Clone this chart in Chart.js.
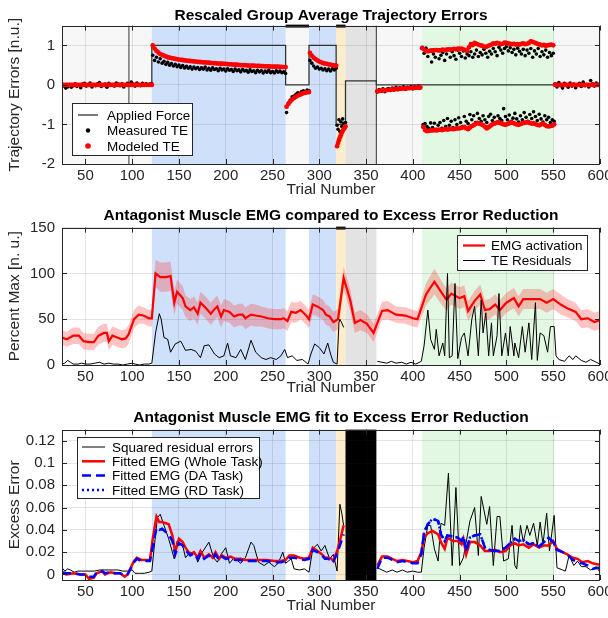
<!DOCTYPE html>
<html>
<head>
<meta charset="utf-8">
<script src="https://cdn.jsdelivr.net/npm/chart.js"></script>
<style>
  body { margin: 0; background: #fff; }
  #wrap { position: relative; width: 608px; height: 618px; }
  canvas { position: absolute; left: 0; }
</style>
</head>
<body>
<div id="wrap">
  <canvas id="te" width="608" height="200" style="top:0"></canvas>
  <canvas id="emg" width="608" height="200" style="top:200px"></canvas>
  <canvas id="fit" width="608" height="218" style="top:400px"></canvas>
</div>
<script>
Chart.defaults.font.family = '"Liberation Sans", Arial, Helvetica, sans-serif';
Chart.defaults.color = '#262626';

function range(a, b, step) {
  const out = [];
  for (let t = a; t <= b; t += step) out.push(t);
  return out;
}

// ---------- shared ----------
const xTicks = [50, 100, 150, 200, 250, 300, 350, 400, 450, 500, 550, 600];
const blueSpans = [[121, 264], [289, 318]];
const catchSpans = [[318, 328]];
const washSpans = [[328, 361]];
const rdSpans = [[410, 551]];

// ---------- panel 1: trajectory errors ----------
const teTrials = [].concat(
  range(25, 121, 2), range(122, 264, 2), range(265, 289, 2), range(290, 318, 2),
  range(319, 328, 1), range(362, 408, 2), range(410, 550, 2), range(411, 551, 2),
  range(552, 600, 2));

const measuredTE = [
  // baseline 25-121
  0.02,-0.03,-0.08,-0.05,0.01,-0.06,-0.02,0.03,-0.04,0.00,
  -0.07,0.02,0.04,-0.03,-0.01,0.05,-0.05,0.01,-0.02,0.03,
  0.06,-0.04,0.00,0.02,-0.06,0.04,-0.01,0.01,-0.03,0.05,
  0.02,-0.02,0.03,-0.05,0.00,0.04,-0.01,0.07,0.02,-0.03,
  0.05,0.01,-0.02,0.04,0.00,0.03,-0.01,0.02,0.03,
  // force field 122-264
  0.75,0.62,0.70,0.58,0.66,0.55,0.60,0.52,0.57,0.50,0.54,0.48,
  0.52,0.46,0.50,0.44,0.49,0.43,0.47,0.42,0.46,0.40,0.45,0.41,
  0.44,0.39,0.43,0.40,0.45,0.38,0.42,0.37,0.43,0.39,0.41,0.36,
  0.42,0.38,0.40,0.35,0.41,0.37,0.39,0.34,0.40,0.36,0.38,0.33,
  0.39,0.35,0.37,0.32,0.38,0.34,0.36,0.31,0.37,0.33,0.36,0.30,
  0.35,0.32,0.37,0.31,0.34,0.30,0.36,0.32,0.35,0.31,0.33,0.29,
  // after-effect 265-289
  -0.70,-0.45,-0.38,-0.30,-0.28,-0.24,-0.20,-0.22,-0.17,-0.15,-0.18,-0.13,-0.15,
  // re-exposure 290-318
  0.62,0.55,0.48,0.42,0.45,0.40,0.42,0.38,0.41,0.36,0.40,0.35,0.41,0.38,0.42,
  // catch 319-328
  -1.02,-1.12,-0.88,-1.18,-0.93,-1.05,-0.86,-0.97,-1.10,-0.95,
  // washout 362-408
  -0.18,-0.12,-0.16,-0.10,-0.17,-0.11,-0.09,-0.14,-0.08,-0.13,-0.06,-0.12,
  -0.07,-0.10,-0.05,-0.11,-0.06,-0.09,-0.04,-0.10,-0.05,-0.08,-0.03,-0.07,
  // random direction, upper 410-550
  0.95,0.80,0.93,0.72,0.85,0.58,0.78,0.70,0.88,0.66,
  0.75,0.82,0.62,0.78,0.90,0.70,0.84,0.74,0.65,0.88,
  0.80,0.72,0.86,0.68,0.78,0.74,0.84,0.70,0.78,0.88,
  0.72,0.82,0.76,0.90,0.80,0.70,0.85,0.78,0.92,0.84,
  0.74,0.95,0.88,0.80,0.92,0.97,0.86,0.94,0.82,0.90,
  0.76,0.93,0.85,0.78,0.90,0.74,0.88,0.80,0.92,0.70,
  0.86,0.78,0.92,0.72,0.84,0.76,0.88,0.70,0.82,0.74,
  0.80,
  // random direction, lower 411-551
  -1.00,-0.98,-1.05,-1.10,-0.96,-1.08,-0.97,-1.12,-1.02,-0.95,
  -1.10,-0.90,-1.05,-0.85,-1.02,-0.92,-1.08,-0.88,-1.00,-0.83,
  -0.95,-1.05,-0.80,-0.92,-0.98,-0.75,-0.88,-0.78,-0.95,-0.72,
  -0.85,-0.92,-0.78,-0.88,-0.95,-0.80,-0.74,-0.90,-0.82,-0.95,
  -0.78,-0.85,-0.90,-0.60,-0.80,-0.88,-0.76,-0.92,-0.84,-0.72,
  -0.86,-0.94,-0.78,-0.88,-0.70,-0.82,-0.92,-0.75,-0.85,-0.68,
  -0.80,-0.90,-0.74,-0.86,-0.94,-0.78,-0.88,-0.82,-0.95,-0.88,
  -0.92,
  // final baseline 552-600
  0.03,-0.05,0.06,-0.02,-0.08,0.04,0.01,-0.06,0.05,-0.03,
  0.02,-0.07,0.00,0.04,-0.04,0.07,-0.02,0.01,-0.05,0.11,
  0.03,-0.03,0.05,-0.01,0.02
];

const modeledTE = [
  0,0,0,0,0,0,0,0,0,0, 0,0,0,0,0,0,0,0,0,0, 0,0,0,0,0,0,0,0,0,0,
  0,0,0,0,0,0,0,0,0,0, 0,0,0,0,0,0,0,0,0,
  1.00,0.92,0.86,0.82,0.78,0.76,0.74,0.72,0.70,0.69,0.68,0.67,
  0.66,0.65,0.64,0.635,0.63,0.62,0.615,0.61,0.605,0.60,0.595,0.59,
  0.585,0.58,0.575,0.57,0.57,0.565,0.56,0.555,0.55,0.55,0.545,0.54,
  0.54,0.535,0.53,0.53,0.525,0.52,0.52,0.515,0.51,0.51,0.505,0.50,
  0.50,0.50,0.495,0.49,0.49,0.49,0.485,0.48,0.48,0.48,0.475,0.475,
  0.47,0.47,0.47,0.465,0.465,0.46,0.46,0.46,0.455,0.455,0.45,0.45,
  -0.55,-0.48,-0.42,-0.37,-0.33,-0.30,-0.27,-0.25,-0.23,-0.21,-0.20,-0.19,-0.18,
  0.81,0.74,0.69,0.65,0.62,0.59,0.57,0.55,0.54,0.53,0.52,0.51,0.50,0.495,0.49,
  -1.55,-1.47,-1.40,-1.33,-1.27,-1.21,-1.16,-1.12,-1.08,-1.05,
  -0.16,-0.15,-0.145,-0.14,-0.135,-0.13,-0.125,-0.12,-0.115,-0.11,-0.105,-0.10,
  -0.10,-0.095,-0.09,-0.09,-0.085,-0.08,-0.08,-0.075,-0.075,-0.07,-0.07,-0.065,
  0.93,0.90,0.86,0.85,0.86,0.87,0.87,0.88,0.88,0.87,
  0.88,0.89,0.88,0.89,0.90,0.89,0.90,0.91,0.90,0.92,
  0.91,0.92,0.90,0.88,0.86,0.95,1.03,1.01,1.06,1.04,
  1.02,1.00,0.99,0.97,0.96,0.98,1.00,1.02,1.05,1.04,
  1.06,1.05,1.03,1.04,1.07,1.06,1.05,1.04,1.03,1.04,
  1.02,1.03,1.02,1.04,1.05,1.03,1.04,1.06,1.10,1.09,
  1.07,1.05,1.03,1.02,1.00,1.01,0.99,1.00,1.01,1.02,
  1.00,
  -1.06,-1.14,-1.17,-1.16,-1.15,-1.15,-1.14,-1.15,-1.14,-1.13,
  -1.14,-1.13,-1.12,-1.13,-1.12,-1.11,-1.12,-1.11,-1.10,-1.10,
  -1.09,-1.08,-1.06,-1.10,-1.12,-1.08,-1.04,-1.02,-0.99,-0.96,
  -0.98,-1.00,-1.02,-1.06,-1.10,-1.07,-1.03,-1.00,-0.98,-0.96,
  -0.94,-0.96,-0.98,-1.00,-1.01,-0.99,-0.97,-0.95,-0.96,-0.98,
  -1.00,-1.01,-0.99,-0.97,-0.96,-0.95,-0.94,-0.96,-0.98,-0.97,
  -0.99,-1.01,-1.02,-1.00,-0.98,-1.01,-1.04,-1.05,-1.04,-1.03,
  -1.00,
  0,0,0,0,0,0,0,0,0,0, 0,0,0,0,0,0,0,0,0,0, 0,0,0,0,0
];

const forceTrials = [25, 121, 121, 264, 264, 289, 289, 318, 318, 328, 328, 361, 361, 600];
const forceLevels = [0, 0, 1, 1, 0, 0, 1, 1, -1, -1, 0.1, 0.1, 0, 0];
const markerTrials = [96.5, 361];
const teTicks = [-2, -1, 0, 1];

// ---------- panel 2: EMG vs residuals ----------
const emgTrials = [
  25,30,37,43,48,54,59,64,70,73, 75,79,84,89,93,96,102,107,112,118,
  121,125,130,136,141,145,148,154,157,162, 166,170,173,179,184,188,191,195,198,204,
  209,214,218,221,227,232,238,245,252,259, 262,266,270,275,280,286,289,293,298,304,
  307,311,315,320,326,333,338,344,351,358, 367,373,382,392,400,405,414,423,430,436,
  441,450,455,459,466,472,477,482,488,493, 500,508,513,518,527,536,543,550,558,565,
  574,580,587,594,600];
const emgValues = [
  30,28,32,32,26,25,25,32,35,35, 26,32,30,28,29,33,50,55,54,51,
  51,100,96,96,97,68,80,73,64,60, 63,56,68,62,56,61,64,53,60,58,
  53,55,55,51,55,54,53,51,50,50, 51,48,58,57,60,54,50,66,64,60,
  55,53,47,50,95,71,46,49,45,35, 59,60,55,54,51,50,77,91,80,71,
  78,73,75,59,70,77,60,61,66,60, 68,73,64,72,72,72,68,72,66,62,
  58,50,51,47,49];
const emgSpread = [
  8,8,9,9,9,9,9,10,10,10, 10,10,10,10,10,10,10,10,9,9,
  9,15,16,16,16,14,13,13,12,12, 12,12,12,12,12,12,12,12,12,12,
  12,12,12,12,12,12,11,11,11,11, 11,11,11,11,10,10,10,11,11,11,
  11,11,11,11,12,12,11,11,10,10, 10,10,9,9,9,9,12,14,13,12,
  12,12,12,11,11,11,11,11,11,11, 11,11,11,11,11,11,11,11,11,10,
  10,10,10,10,10];

const resTrials = [
  25,28,31,34,37,42,46,50,55,60, 65,70,75,80,85,90,95,100,103,108,
  113,118,121,125,129,131,134,138,141,146, 152,157,163,168,173,177,182,188,193,198,
  202,205,211,216,221,227,232,238,243,248, 254,259,263,266,271,276,282,288,291,295,
  300,305,309,312,315,319,321,322,324,326, 345,362,367,372,377,382,388,393,398,403,
  409,412,416,419,423,425,428,432,434,437, 439,442,445,448,452,455,459,463,466,470,
  473,475,478,481,484,486,490,492,495,499, 502,504,508,509,513,517,520,524,527,531,
  533,536,540,544,547,551,553,556,562,567, 571,574,580,585,590,596,600];
const resValues = [
  1,2,5,3,1,1,2,1,1,2, 3,1,2,1,1,0,1,2,1,0,
  1,1,2,35,56,50,30,28,14,23, 26,16,17,15,8,21,22,12,8,10,
  24,10,8,17,6,27,14,8,6,8, 6,10,17,8,10,5,6,1,12,23,
  19,12,24,12,3,1,46,50,46,41, null,4,3,2,4,2,3,1,3,1,
  4,21,60,28,17,39,10,24,10,100, 8,10,89,7,30,35,10,50,64,10,
  71,35,57,10,46,10,32,78,10,35, 10,42,10,24,8,42,14,46,6,68,
  5,35,32,14,42,42,10,6,4,10, 6,10,5,3,6,3,1];
const emgTicks = [0, 50, 100, 150];

// ---------- panel 3: fitted EMG ----------
const sqTrials = [
  25,28,31,34,38,42,46,50,55,60, 65,70,75,80,85,90,95,100,103,108,
  113,118,121,123,127,130,134,139,143,145, 148,154,157,162,168,170,175,182,187,191,
  195,200,204,209,216,221,227,230,235,241, 246,252,256,261,264,270,273,279,284,289,
  293,298,302,306,311,315,319,322,324,326, 345,362,367,372,378,383,389,394,400,405,
  409,412,416,419,423,427,430,434,438,442, 446,450,454,457,461,466,470,473,479,482,
  486,490,493,497,502,506,509,511,515,518, 522,525,529,533,536,539,543,546,551,554,
  560,563,567,572,576,580,585,590,596,600];
const sqValues = [
  0.006,0.003,0.005,0.004,0.002,0.003,0.003,0.003,0.003,0.003,
  0.004,0.004,0.004,0.004,0.004,0.003,0.003,0.004,0.001,0.001,
  0.001,0.002,0.003,0.020,0.051,0.054,0.044,0.032,0.020,0.014,
  0.030,0.026,0.015,0.020,0.018,0.011,0.020,0.029,0.015,0.011,
  0.018,0.024,0.010,0.015,0.010,0.015,0.029,0.026,0.011,0.008,
  0.011,0.007,0.010,0.020,0.010,0.014,0.005,0.004,0.005,0.002,
  0.023,0.027,0.021,0.026,0.014,0.018,0.003,0.063,0.055,0.044,
  null,0.006,0.004,0.002,0.004,0.002,0.004,0.002,0.003,0.002,
  0.002,0.024,0.044,0.044,0.023,0.012,0.046,0.044,0.091,0.008,
  0.078,0.008,0.015,0.029,0.048,0.060,0.017,0.070,0.045,0.061,
  0.008,0.052,0.052,0.012,0.014,0.044,0.008,0.005,0.044,0.029,
  0.044,0.035,0.046,0.026,0.047,0.027,0.055,0.021,0.053,0.006,
  0.004,0.003,0.017,0.008,0.012,0.007,0.007,0.004,0.007,0.002];

const fitTrials = [
  25,30,37,45,50,54,59,62,68,71, 77,82,87,92,95,99,102,105,110,114,
  119,122,126,129,132,136,139,143,146,150, 154,157,162,166,170,173,177,182,186,189,
  193,196,200,205,210,216,221,230,237,244, 252,259,264,268,273,279,284,289,293,298,
  303,306,309,313,315,319,322,326,345,362, 367,373,378,383,389,394,400,405,409,412,
  416,421,427,430,434,437,443,448,452,454, 457,461,466,472,477,482,488,493,499,504,
  509,513,518,524,529,535,540,545,550,554, 560,565,571,576,581,587,592,598,600];
const fitWhole = [
  0.001,0.000,0.001,0.000,0.000,-0.004,-0.003,0.001,0.003,0.000,
  0.002,0.001,0.001,-0.002,0.000,0.007,0.012,0.015,0.013,0.013,
  0.013,0.032,0.052,0.047,0.047,0.046,0.045,0.035,0.020,0.032,
  0.029,0.024,0.018,0.020,0.015,0.021,0.015,0.018,0.015,0.020,
  0.014,0.017,0.015,0.016,0.014,0.014,0.013,0.013,0.013,0.013,
  0.012,0.012,0.013,0.017,0.017,0.015,0.014,0.015,0.024,0.021,
  0.018,0.015,0.015,0.014,0.012,0.021,0.030,0.044,null,0.008,
  0.016,0.016,0.014,0.012,0.013,0.012,0.011,0.012,0.020,0.033,
  0.037,0.039,0.036,0.029,0.023,0.033,0.030,0.030,0.027,0.032,
  0.018,0.029,0.029,0.026,0.021,0.021,0.022,0.020,0.021,0.026,
  0.028,0.026,0.027,0.024,0.027,0.024,0.026,0.026,0.030,0.023,
  0.020,0.018,0.015,0.014,0.011,0.012,0.010,0.009,0.009];
const fitDA = [
  0.002,0.001,0.001,0.000,0.000,-0.002,-0.002,0.002,0.003,0.001,
  0.002,0.001,0.001,-0.001,0.000,0.006,0.011,0.014,0.012,0.012,
  0.012,0.025,0.042,0.040,0.041,0.038,0.036,0.030,0.018,0.028,
  0.026,0.022,0.017,0.019,0.014,0.019,0.014,0.017,0.014,0.018,
  0.013,0.016,0.014,0.015,0.013,0.013,0.012,0.012,0.012,0.012,
  0.011,0.011,0.012,0.015,0.015,0.014,0.013,0.014,0.022,0.020,
  0.017,0.014,0.014,0.013,0.011,0.019,0.026,0.036,null,0.005,
  0.015,0.015,0.013,0.011,0.012,0.011,0.010,0.010,0.018,0.038,
  0.045,0.050,0.048,0.036,0.030,0.035,0.034,0.033,0.030,0.034,
  0.021,0.033,0.035,0.036,0.024,0.022,0.021,0.021,0.024,0.028,
  0.032,0.030,0.031,0.027,0.028,0.025,0.029,0.033,0.029,0.022,
  0.020,0.018,0.013,0.011,0.010,0.008,0.005,0.006,0.006];
const fitTicks = [0, 0.02, 0.04, 0.06, 0.08, 0.1, 0.12];

// ---------- helpers ----------
const BLUE = '#cfe0fa', ORANGE = '#fdedcb', GRAY = '#e3e3e3', GREEN = '#e2f8e2';
const pts = (xs, ys) => xs.map((t, i) => ({x: t, y: ys[i]}));
const paint = (spans, color) => spans.map(s => [s[0], s[1], color]);

function shadePlugin(spec) {
  return {
    id: 'shade',
    beforeDraw(chart) {
      const {ctx, chartArea: a, scales: {x}} = chart;
      ctx.save();
      ctx.fillStyle = spec.background;
      ctx.fillRect(a.left, a.top, a.width, a.height);
      spec.spans.forEach(([from, to, color]) => {
        const x0 = Math.max(a.left, x.getPixelForValue(from));
        const x1 = Math.min(a.right, x.getPixelForValue(to));
        ctx.fillStyle = color;
        ctx.fillRect(x0, a.top, x1 - x0, a.height);
      });
      ctx.restore();
    },
    afterDatasetsDraw(chart) {
      const {ctx, chartArea: a, scales: {x, y}} = chart;
      ctx.save();
      ctx.fillStyle = '#111';
      (spec.topBars || []).forEach(([from, to]) => {
        const x0 = x.getPixelForValue(from), x1 = x.getPixelForValue(to);
        ctx.fillRect(x0, a.top - 1, x1 - x0, 3);
      });
      ctx.strokeStyle = '#262626';
      ctx.lineWidth = 1;
      ctx.beginPath();
      x.ticks.forEach(t => {
        const px = Math.round(x.getPixelForValue(t.value)) + 0.5;
        ctx.moveTo(px, a.bottom); ctx.lineTo(px, a.bottom - 5);
        ctx.moveTo(px, a.top); ctx.lineTo(px, a.top + 5);
      });
      y.ticks.forEach(t => {
        const py = Math.round(y.getPixelForValue(t.value)) + 0.5;
        ctx.moveTo(a.left, py); ctx.lineTo(a.left + 5, py);
        ctx.moveTo(a.right, py); ctx.lineTo(a.right - 5, py);
      });
      ctx.stroke();
      ctx.strokeRect(Math.round(a.left) + 0.5, Math.round(a.top) + 0.5,
        Math.round(a.width) - 1, Math.round(a.height));
      ctx.restore();
    }
  };
}

function boxLegend(spec) {
  return {
    id: 'boxLegend',
    afterDraw(chart) {
      const {ctx} = chart;
      ctx.save();
      ctx.fillStyle = '#fff';
      ctx.fillRect(spec.x, spec.y, spec.w, spec.h);
      ctx.strokeStyle = '#262626';
      ctx.lineWidth = 1;
      ctx.strokeRect(spec.x + 0.5, spec.y + 0.5, spec.w, spec.h);
      ctx.font = '13.5px "Liberation Sans", Arial, sans-serif';
      ctx.textBaseline = 'middle';
      spec.items.forEach((idx, i) => {
        const ds = chart.data.datasets[idx];
        const yy = spec.y + spec.first + i * spec.row;
        const x0 = spec.x + spec.sample[0], x1 = spec.x + spec.sample[1];
        if (ds.type === 'scatter') {
          ctx.fillStyle = ds.backgroundColor;
          ctx.beginPath();
          ctx.arc((x0 + x1) / 2, yy, ds.pointRadius + 0.4, 0, Math.PI * 2);
          ctx.fill();
        } else {
          ctx.strokeStyle = ds.borderColor;
          ctx.lineWidth = ds.borderWidth;
          ctx.setLineDash(ds.borderDash || []);
          ctx.beginPath();
          ctx.moveTo(x0, yy); ctx.lineTo(x1, yy);
          ctx.stroke();
          ctx.setLineDash([]);
        }
        ctx.fillStyle = '#000';
        ctx.fillText(ds.label, spec.x + spec.text, yy + 1);
      });
      ctx.restore();
    }
  };
}

function panel(id, cfg) {
  return new Chart(document.getElementById(id), {
    type: 'scatter',
    data: {datasets: cfg.datasets},
    options: {
      responsive: false,
      animation: false,
      events: [],
      devicePixelRatio: 1,
      layout: {padding: {left: 0, right: 8, top: 0, bottom: 0}},
      plugins: {
        legend: {display: false},
        tooltip: {enabled: false},
        title: {
          display: true, text: cfg.title, fullSize: false, color: '#000',
          font: {size: 15.5, weight: 'bold'}, padding: cfg.titlePad
        }
      },
      scales: {
        x: {
          type: 'linear', min: 25, max: 600,
          afterBuildTicks: s => { s.ticks = xTicks.map(v => ({value: v})); },
          afterFit: s => { s.height = cfg.xHeight; s.paddingLeft = 0; s.paddingRight = 0; },
          grid: {color: 'rgba(38,38,38,0.12)', drawTicks: false},
          border: {display: false},
          ticks: {font: {size: 15}, padding: 3, maxRotation: 0, autoSkip: false, callback: v => String(v)},
          title: {display: true, text: 'Trial Number', font: {size: 15.5}, padding: {top: 0, bottom: cfg.xTitlePad}}
        },
        y: {
          type: 'linear', min: cfg.yMin, max: cfg.yMax,
          afterBuildTicks: s => { s.ticks = cfg.yTicks.map(v => ({value: v})); },
          afterFit: s => { s.width = 62; s.paddingTop = 0; s.paddingBottom = 0; },
          grid: {color: 'rgba(38,38,38,0.12)', drawTicks: false},
          border: {display: false},
          ticks: {font: {size: 15}, padding: 7, callback: v => String(v)},
          title: {display: true, text: cfg.yTitle, font: {size: 15.5}, padding: {top: 5, bottom: 0}}
        }
      }
    },
    plugins: [shadePlugin(cfg.shade), boxLegend(cfg.legend)]
  });
}

// ---------- panel 1 ----------
panel('te', {
  title: 'Rescaled Group Average Trajectory Errors',
  titlePad: {top: 6, bottom: 1},
  xHeight: 36, xTitlePad: 1,
  yMin: -2, yMax: 1.5, yTicks: teTicks, yTitle: 'Trajectory Errors [n.u.]',
  shade: {
    background: '#f7f7f7',
    spans: [].concat(paint(blueSpans, BLUE), paint(catchSpans, ORANGE), paint(washSpans, GRAY), paint(rdSpans, GREEN)),
    topBars: [[264, 289], [318, 328]]
  },
  legend: {x: 72, y: 103, w: 120, h: 52, first: 12, row: 15.5, sample: [6, 26], text: 35, items: [0, 1, 2]},
  datasets: [
    {type: 'line', label: 'Applied Force', data: pts(forceTrials, forceLevels),
     borderColor: '#333', borderWidth: 1.3, pointRadius: 0, tension: 0, order: 3},
    {type: 'scatter', label: 'Measured TE', data: pts(teTrials, measuredTE),
     backgroundColor: '#000', borderWidth: 0, pointRadius: 1.8, order: 2},
    {type: 'scatter', label: 'Modeled TE', data: pts(teTrials, modeledTE),
     backgroundColor: '#ff0000', borderWidth: 0, pointRadius: 2.4, order: 1},
    {type: 'line', label: 'markers',
     data: markerTrials.flatMap(t => [{x: t, y: -2}, {x: t, y: 1.5}, {x: t, y: null}]),
     borderColor: '#555', borderWidth: 1.2, pointRadius: 0, order: 4}
  ]
});

// ---------- panel 2 ----------
panel('emg', {
  title: 'Antagonist Muscle EMG compared to Excess Error Reduction',
  titlePad: {top: 6, bottom: 3},
  xHeight: 35, xTitlePad: 3,
  yMin: 0, yMax: 150, yTicks: emgTicks, yTitle: 'Percent Max [n. u.]',
  shade: {
    background: '#fff',
    spans: [].concat(paint(blueSpans, BLUE), paint(catchSpans, ORANGE), paint(washSpans, GRAY), paint(rdSpans, GREEN)),
    topBars: [[318, 328]]
  },
  legend: {x: 457, y: 35, w: 130, h: 35, first: 10.5, row: 15, sample: [6, 28], text: 34, items: [0, 1]},
  datasets: [
    {type: 'line', label: 'EMG activation', data: pts(emgTrials, emgValues),
     borderColor: '#ff0000', borderWidth: 2.2, pointRadius: 0, tension: 0, order: 2},
    {type: 'line', label: 'TE Residuals', data: pts(resTrials, resValues),
     borderColor: '#000', borderWidth: 1, pointRadius: 0, tension: 0, order: 1},
    {type: 'line', label: 'band+', data: pts(emgTrials, emgValues.map((v, i) => v + emgSpread[i])),
     borderWidth: 0, pointRadius: 0, fill: '+1', backgroundColor: 'rgba(255,40,40,0.28)', order: 3},
    {type: 'line', label: 'band-', data: pts(emgTrials, emgValues.map((v, i) => v - emgSpread[i])),
     borderWidth: 0, pointRadius: 0, fill: false, order: 3}
  ]
});

// ---------- panel 3 ----------
const rdFit = fitDA.map((v, i) => (fitTrials[i] >= 409 && fitTrials[i] <= 554 ? v : null));
panel('fit', {
  title: 'Antagonist Muscle EMG fit to Excess Error Reduction',
  titlePad: {top: 8, bottom: 3},
  xHeight: 38, xTitlePad: 3,
  yMin: -0.005, yMax: 0.13, yTicks: fitTicks, yTitle: 'Excess Error',
  shade: {
    background: '#fff',
    spans: [].concat(paint(blueSpans, BLUE), paint(catchSpans, ORANGE), paint(washSpans, '#000'), paint(rdSpans, GREEN))
  },
  legend: {x: 77, y: 37, w: 182, h: 61, first: 10, row: 14.3, sample: [5, 28], text: 35, items: [0, 1, 2, 3]},
  datasets: [
    {type: 'line', label: 'Squared residual errors', data: pts(sqTrials, sqValues),
     borderColor: '#000', borderWidth: 1, pointRadius: 0, tension: 0, order: 4},
    {type: 'line', label: 'Fitted EMG (Whole Task)', data: pts(fitTrials, fitWhole),
     borderColor: '#ff0000', borderWidth: 2.5, pointRadius: 0, tension: 0, order: 3},
    {type: 'line', label: 'Fitted EMG (DA Task)', data: pts(fitTrials, fitDA),
     borderColor: '#0000ff', borderWidth: 2.5, borderDash: [9, 5], pointRadius: 0, tension: 0, order: 1},
    {type: 'line', label: 'Fitted EMG (RD Task)', data: pts(fitTrials, rdFit),
     borderColor: '#0000ff', borderWidth: 2.5, borderDash: [2, 3], pointRadius: 0, tension: 0, order: 2}
  ]
});
</script>
</body>
</html>
